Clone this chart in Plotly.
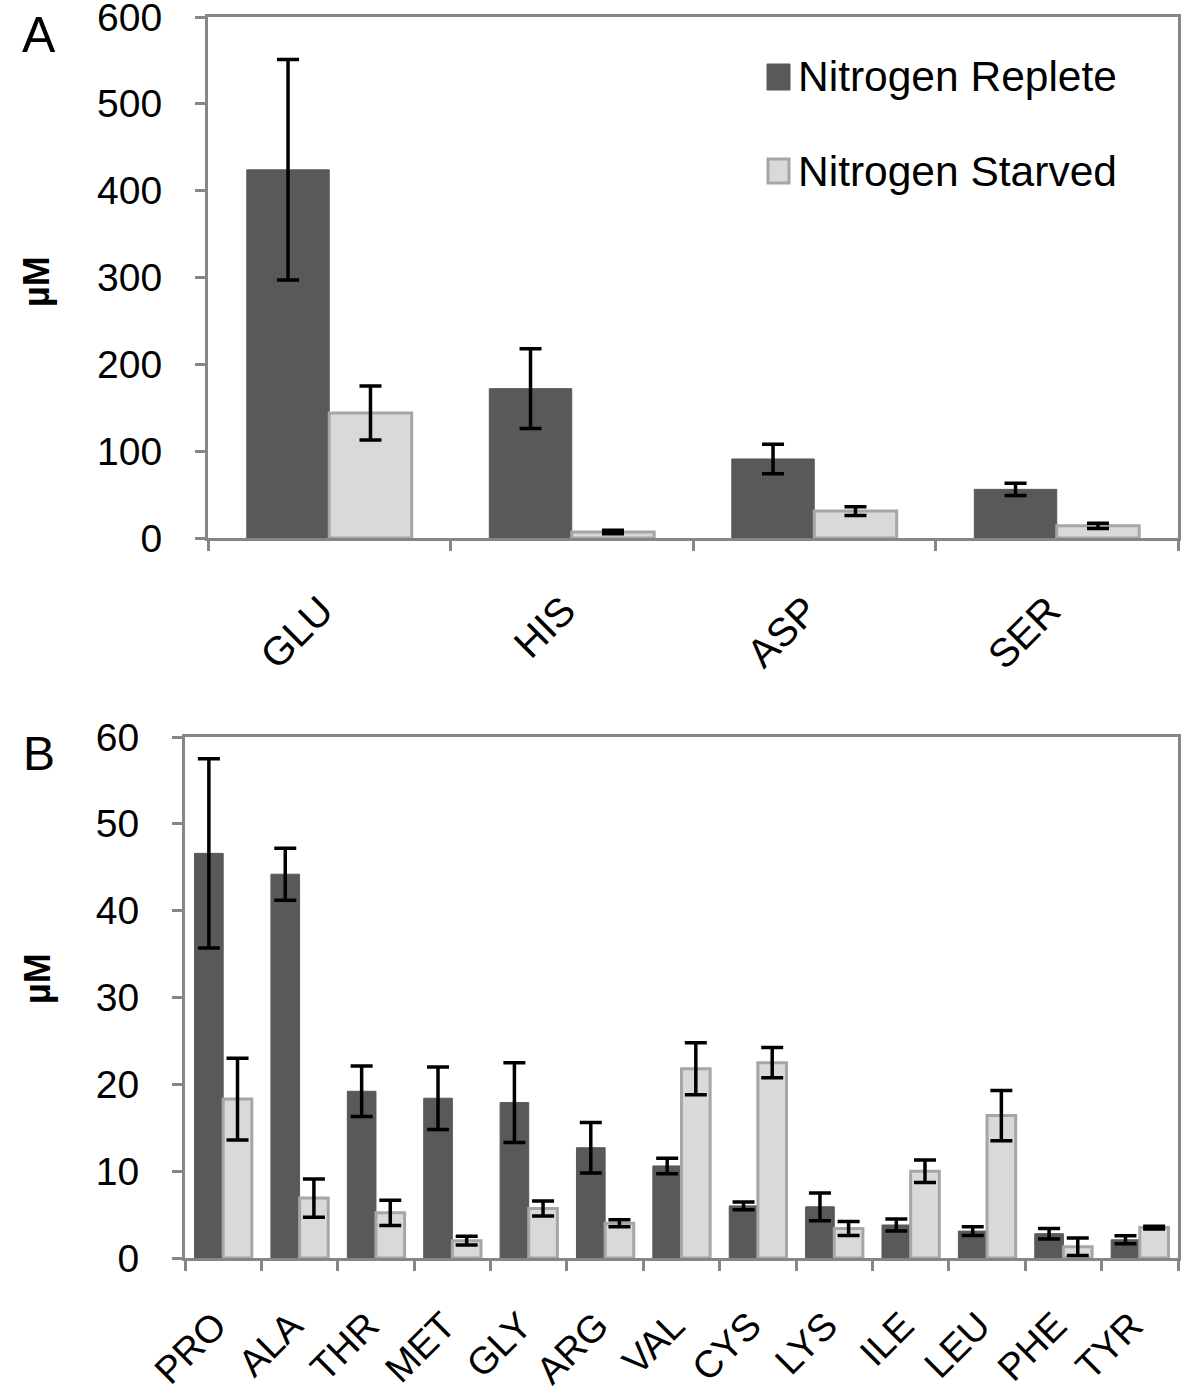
import plotly.graph_objects as go

# Panel A data
cats_a = ["GLU", "HIS", "ASP", "SER"]
replete_a = [424, 172, 91, 56]
replete_a_err = [127, 46, 17, 7]
starved_a = [144, 7, 31, 14]
starved_a_err = [31, 2, 5, 3]

# Panel B data
cats_b = ["PRO", "ALA", "THR", "MET", "GLY", "ARG", "VAL", "CYS", "LYS", "ILE", "LEU", "PHE", "TYR"]
replete_b = [46.6, 44.2, 19.2, 18.4, 17.9, 12.7, 10.6, 6.0, 5.9, 3.8, 3.1, 2.8, 2.1]
replete_b_err = [10.9, 3.0, 2.9, 3.6, 4.6, 2.9, 0.9, 0.45, 1.6, 0.7, 0.5, 0.6, 0.45]
starved_b = [18.3, 6.9, 5.2, 2.0, 5.7, 4.0, 21.8, 22.5, 3.4, 10.0, 16.4, 1.3, 3.5]
starved_b_err = [4.7, 2.2, 1.45, 0.5, 0.85, 0.4, 3.0, 1.75, 0.8, 1.3, 2.9, 1.0, 0.15]

series_names = ["Nitrogen Replete", "Nitrogen Starved"]

DARK = "#595959"
LIGHT = "#d9d9d9"
LIGHT_EDGE = "#a6a6a6"
AXIS = "#868686"
FONT = "Liberation Sans, Arial, sans-serif"

W, H = 1186, 1394


def px(x):
    return x / W


def py(y):
    return 1 - y / H


fig = go.Figure()


def add_pair(cats, rep, rep_err, sta, sta_err, xa, ya, bw, cap):
    fig.add_trace(go.Bar(
        x=cats, y=rep, name=series_names[0], xaxis=xa, yaxis=ya,
        width=bw, offset=-bw,
        marker=dict(color=DARK, line=dict(color=DARK, width=1)),
        error_y=dict(type="data", array=rep_err, visible=True, color="black",
                     thickness=3.5, width=cap),
        showlegend=False,
    ))
    fig.add_trace(go.Bar(
        x=cats, y=sta, name=series_names[1], xaxis=xa, yaxis=ya,
        width=bw, offset=0,
        marker=dict(color=LIGHT, line=dict(color=LIGHT_EDGE, width=3)),
        error_y=dict(type="data", array=sta_err, visible=True, color="black",
                     thickness=3.5, width=cap),
        showlegend=False,
    ))


add_pair(cats_a, replete_a, replete_a_err, starved_a, starved_a_err, "x", "y", 0.34, 11)
add_pair(cats_b, replete_b, replete_b_err, starved_b, starved_b_err, "x2", "y2", 0.375, 11)

xa_common = dict(
    type="category", showline=True, mirror=True, linecolor=AXIS, linewidth=3,
    ticks="outside", tickson="boundaries", ticklen=10, tickwidth=3, tickcolor=AXIS,
    tickangle=-45,
    showgrid=False, zeroline=False, automargin=False, ticklabeloverflow="allow",
    ticklabelshift=-8,
)
ya_common = dict(
    showline=True, mirror=True, linecolor=AXIS, linewidth=3,
    ticks="outside", ticklen=10, tickwidth=3, tickcolor=AXIS,
    tickfont=dict(family=FONT, size=39, color="black"),
    showgrid=False, zeroline=False, ticklabelstandoff=25, automargin=False,
    ticklabeloverflow="allow",
)

fig.update_layout(
    width=W, height=H,
    margin=dict(l=0, r=0, t=0, b=0, autoexpand=False),
    paper_bgcolor="white", plot_bgcolor="white",
    barmode="overlay",
    showlegend=False,
    xaxis=dict(domain=[px(208), px(1178)], anchor="y", range=[-0.5, 3.5],
               ticklabelstandoff=30, tickfont=dict(family=FONT, size=40, color="black"),
               **xa_common),
    yaxis=dict(domain=[py(538), py(17)], anchor="x", range=[0, 600], dtick=100, **ya_common),
    xaxis2=dict(domain=[px(185), px(1178)], anchor="y2", range=[-0.5, 12.5],
                ticklabelstandoff=27, tickfont=dict(family=FONT, size=38, color="black"),
                **xa_common),
    yaxis2=dict(domain=[py(1258), py(737)], anchor="x2", range=[0, 60], dtick=10, **ya_common),
)

annotations = [
    dict(text="A", x=px(20), y=py(35), xref="paper", yref="paper", showarrow=False,
         xanchor="left", yanchor="middle", font=dict(family=FONT, size=50, color="black")),
    dict(text="B", x=px(21), y=py(753), xref="paper", yref="paper", showarrow=False,
         xanchor="left", yanchor="middle", font=dict(family=FONT, size=48, color="black")),
    dict(text="<b>µM</b>", x=px(37), y=py(282), xref="paper", yref="paper", showarrow=False,
         textangle=-90, xanchor="center", yanchor="middle", font=dict(family=FONT, size=36, color="black")),
    dict(text="<b>µM</b>", x=px(37), y=py(979), xref="paper", yref="paper", showarrow=False,
         textangle=-90, xanchor="center", yanchor="middle", font=dict(family=FONT, size=36, color="black")),
    dict(text=series_names[0], x=px(796), y=py(77), xref="paper", yref="paper", showarrow=False,
         xanchor="left", yanchor="middle", font=dict(family=FONT, size=42.5, color="black")),
    dict(text=series_names[1], x=px(796), y=py(171), xref="paper", yref="paper", showarrow=False,
         xanchor="left", yanchor="middle", font=dict(family=FONT, size=42.5, color="black")),
]
fig.update_layout(annotations=annotations)

shapes = [
    dict(type="rect", xref="paper", yref="paper", x0=px(767), x1=px(790),
         y0=py(90), y1=py(64), fillcolor=DARK, line=dict(color=DARK, width=1)),
    dict(type="rect", xref="paper", yref="paper", x0=px(768), x1=px(789),
         y0=py(183), y1=py(159), fillcolor=LIGHT, line=dict(color=LIGHT_EDGE, width=3)),
]
fig.update_layout(shapes=shapes)

# remove the default 8px page margin so the figure fills the window exactly
fig.write_html("out.html", config={"displayModeBar": False},
               post_script="document.body.style.margin='0';")
